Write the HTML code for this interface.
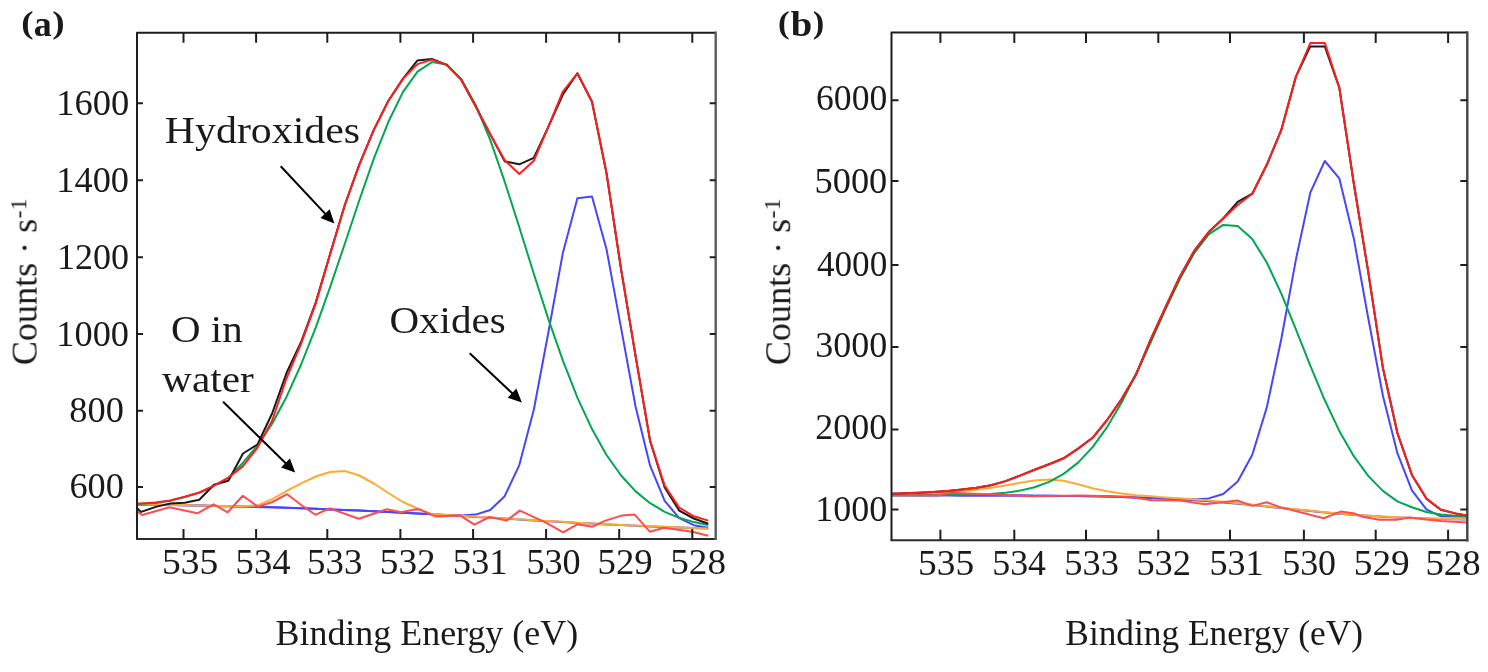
<!DOCTYPE html>
<html><head><meta charset="utf-8"><style>
html,body{margin:0;padding:0;background:#fff;}
svg{display:block;}
text{will-change:transform;}
</style></head><body>
<svg width="1488" height="672" viewBox="0 0 1488 672">
<rect width="1488" height="672" fill="#fff"/>
<defs><clipPath id="ca"><rect x="137" y="32.7" width="578.7" height="506.2"/></clipPath><clipPath id="cb"><rect x="891.5" y="32.6" width="575.6" height="507.9"/></clipPath></defs>
<g clip-path="url(#ca)">
<polyline fill="none" stroke="#4646ff" stroke-width="2" stroke-linejoin="round" points="126.6,504.5 141.2,504.7 155.7,504.9 170.3,505.1 184.8,505.3 199.3,505.6 213.9,505.9 228.4,506.2 243.0,506.5 257.5,506.9 272.1,507.3 286.6,507.8 301.1,508.3 315.7,508.8 330.2,509.4 344.8,510.0 359.3,510.6 373.8,511.3 388.4,512.0 402.9,512.7 417.5,513.5 432.0,514.3 446.6,515.2 461.1,516.0 475.6,516.9 490.2,517.7 504.7,518.6 519.3,519.5 533.8,520.4 548.3,521.2 562.9,522.0 577.4,522.9 592.0,523.6 606.5,524.4 621.1,525.1 635.6,525.8 650.1,526.4 664.7,527.0 679.2,527.6 693.8,528.1 708.3,528.6" />
<polyline fill="none" stroke="#4646ff" stroke-width="2" stroke-linejoin="round" points="126.6,504.5 141.2,504.7 155.7,504.9 170.3,505.1 184.8,505.3 199.3,505.6 213.9,505.9 228.4,506.2 243.0,506.5 257.5,506.9 272.1,507.3 286.6,507.8 301.1,508.3 315.7,508.8 330.2,509.4 344.8,510.0 359.3,510.6 373.8,511.3 388.4,512.0 402.9,512.7 417.5,513.5 432.0,514.3 446.6,515.0 461.1,515.5 475.6,514.6 490.2,510.0 504.7,496.2 519.3,465.1 533.8,409.8 548.3,332.8 562.9,252.8 577.4,198.3 592.0,196.6 606.5,249.2 621.1,328.1 635.6,406.7 650.1,465.7 664.7,500.9 679.2,518.1 693.8,525.2 708.3,527.8" />
<polyline fill="none" stroke="#ffaa33" stroke-width="2" stroke-linejoin="round" points="126.6,504.3 141.2,504.5 155.7,504.7 170.3,504.9 184.8,505.1 199.3,505.4 213.9,505.7 228.4,506.0 243.0,506.3 257.5,505.4 272.1,499.2 286.6,491.0 301.1,483.4 315.7,476.5 330.2,472.0 344.8,471.0 359.3,475.5 373.8,483.5 388.4,493.0 402.9,502.0 417.5,508.5 432.0,514.1 446.6,515.0 461.1,515.8 475.6,516.7 490.2,517.5 504.7,518.4 519.3,519.3 533.8,520.2 548.3,521.0 562.9,521.8 577.4,522.7 592.0,523.4 606.5,524.2 621.1,524.9 635.6,525.6 650.1,526.2 664.7,526.8 679.2,527.4 693.8,527.9 708.3,528.4" />
<polyline fill="none" stroke="#00a850" stroke-width="2" stroke-linejoin="round" points="126.6,504.2 141.2,503.8 155.7,502.9 170.3,500.7 184.8,497.0 199.3,492.8 213.9,486.0 228.4,477.9 243.0,462.7 257.5,445.6 272.1,423.7 286.6,396.7 301.1,364.5 315.7,327.6 330.2,286.8 344.8,243.7 359.3,200.2 373.8,158.7 388.4,121.8 402.9,92.1 417.5,71.6 432.0,62.1 446.6,64.5 461.1,79.1 475.6,104.9 490.2,139.9 504.7,181.7 519.3,227.2 533.8,273.8 548.3,318.9 562.9,360.6 577.4,397.6 592.0,429.1 606.5,455.0 621.1,475.5 635.6,491.4 650.1,503.2 664.7,511.8 679.2,517.8 693.8,522.1 708.3,524.9" />
<polyline fill="none" stroke="#ff4d4d" stroke-width="2" stroke-linejoin="round" points="128.0,504.6 137.0,511.3 142.0,515.0 169.3,507.3 197.5,513.3 213.6,504.3 227.7,512.3 242.8,495.8 258.0,506.7 272.4,502.0 287.2,494.2 301.6,505.2 315.4,514.8 329.5,508.3 358.8,518.8 387.0,509.3 401.1,512.3 416.2,509.3 420.0,509.6 436.1,516.6 460.3,515.6 474.4,524.7 489.6,517.0 506.7,520.6 519.8,510.6 546.0,522.7 563.1,532.3 577.3,524.3 592.4,526.7 605.5,520.6 621.6,515.6 634.7,514.6 649.8,531.7 664.0,527.7 692.2,531.7 708.3,535.8" />
<polyline fill="none" stroke="#1a1a1a" stroke-width="2" stroke-linejoin="round" points="126.6,499.0 141.2,511.9 155.7,506.9 170.3,503.5 184.8,502.7 199.3,499.8 213.9,484.7 228.4,480.8 243.0,453.5 257.5,444.5 272.1,413.5 286.6,372.8 301.1,342.0 315.7,302.6 330.2,253.8 344.8,205.0 359.3,164.7 373.8,129.9 388.4,100.8 402.9,78.9 417.5,60.4 432.0,58.9 446.6,64.9 461.1,79.5 475.6,106.3 490.2,134.1 504.7,161.4 519.3,164.3 533.8,157.9 548.3,126.9 562.9,94.5 577.4,73.3 592.0,101.8 606.5,173.1 621.1,269.3 635.6,356.2 650.1,440.9 664.7,487.5 679.2,510.6 693.8,518.5 708.3,523.7" />
<polyline fill="none" stroke="#ff1e1e" stroke-width="2" stroke-linejoin="round" points="126.6,503.9 141.2,503.5 155.7,502.6 170.3,500.4 184.8,496.7 199.3,492.5 213.9,485.7 228.4,477.6 243.0,466.1 257.5,447.6 272.1,420.7 286.6,378.0 301.1,343.6 315.7,303.6 330.2,253.8 344.8,205.0 359.3,164.7 373.8,129.9 388.4,100.8 402.9,78.9 417.5,64.1 432.0,59.6 446.6,64.9 461.1,79.5 475.6,106.3 490.2,134.1 504.7,160.3 519.3,174.0 533.8,160.8 548.3,126.9 562.9,91.5 577.4,73.3 592.0,101.8 606.5,173.1 621.1,269.3 635.6,356.2 650.1,440.9 664.7,485.5 679.2,507.6 693.8,516.3 708.3,520.6" />
</g>
<g clip-path="url(#cb)">
<polyline fill="none" stroke="#4646ff" stroke-width="2" stroke-linejoin="round" points="874.9,495.3 889.4,495.3 903.9,495.3 918.4,495.3 932.9,495.3 947.5,495.3 962.0,495.4 976.5,495.4 991.0,495.4 1005.5,495.5 1020.0,495.6 1034.5,495.7 1049.1,495.8 1063.6,495.9 1078.1,496.1 1092.6,496.3 1107.1,496.6 1121.6,496.9 1136.1,497.4 1150.7,497.9 1165.2,498.5 1179.7,499.3 1194.2,500.2 1208.7,501.2 1223.2,502.4 1237.7,503.7 1252.3,505.1 1266.8,506.6 1281.3,508.1 1295.8,509.6 1310.3,511.1 1324.8,512.5 1339.3,513.7 1353.8,514.9 1368.4,515.8 1382.9,516.7 1397.4,517.4 1411.9,518.0 1426.4,518.5 1440.9,518.9 1455.4,519.2 1470.0,519.5 1484.5,519.7" />
<polyline fill="none" stroke="#4646ff" stroke-width="2" stroke-linejoin="round" points="874.9,495.3 889.4,495.3 903.9,495.3 918.4,495.3 932.9,495.3 947.5,495.3 962.0,495.4 976.5,495.4 991.0,495.4 1005.5,495.5 1020.0,495.6 1034.5,495.7 1049.1,495.8 1063.6,495.9 1078.1,496.1 1092.6,496.3 1107.1,496.6 1121.6,496.9 1136.1,497.4 1150.7,497.9 1165.2,498.5 1179.7,499.1 1194.2,499.4 1208.7,498.4 1223.2,494.0 1237.7,481.6 1252.3,454.8 1266.8,407.4 1281.3,339.0 1295.8,260.1 1310.3,192.7 1324.8,161.0 1339.3,178.3 1353.8,238.4 1368.4,319.0 1382.9,395.7 1397.4,453.2 1411.9,490.4 1426.4,509.4 1440.9,516.3 1455.4,516.5 1470.0,516.5 1484.5,516.5" />
<polyline fill="none" stroke="#ffaa33" stroke-width="2" stroke-linejoin="round" points="874.9,494.3 889.4,494.2 903.9,494.0 918.4,493.6 932.9,493.2 947.5,492.4 962.0,491.4 976.5,489.8 991.0,487.8 1005.5,485.4 1020.0,482.8 1034.5,480.5 1049.1,479.5 1063.6,480.8 1078.1,484.3 1092.6,488.2 1107.1,491.3 1121.6,493.6 1136.1,495.2 1150.7,496.3 1165.2,497.4 1179.7,498.3 1194.2,499.4 1208.7,500.6 1223.2,501.8 1237.7,503.2 1252.3,504.7 1266.8,506.2 1281.3,507.8 1295.8,509.3 1310.3,510.8 1324.8,512.2 1339.3,513.5 1353.8,514.7 1368.4,515.7 1382.9,516.5 1397.4,517.3 1411.9,517.9 1426.4,518.4 1440.9,518.8 1455.4,519.1 1470.0,519.4 1484.5,519.6" />
<polyline fill="none" stroke="#00a850" stroke-width="2" stroke-linejoin="round" points="874.9,495.3 889.4,495.3 903.9,495.3 918.4,495.3 932.9,495.2 947.5,495.1 962.0,495.0 976.5,494.6 991.0,493.9 1005.5,492.7 1020.0,490.6 1034.5,487.2 1049.1,481.9 1063.6,473.9 1078.1,462.6 1092.6,447.1 1107.1,427.1 1121.6,402.5 1136.1,373.8 1150.7,342.3 1165.2,309.9 1179.7,279.3 1194.2,253.2 1208.7,234.3 1223.2,224.9 1237.7,226.1 1252.3,239.1 1266.8,262.5 1281.3,293.6 1295.8,329.1 1310.3,365.7 1324.8,400.3 1339.3,430.9 1353.8,456.2 1368.4,476.1 1382.9,490.9 1397.4,501.4 1411.9,507.2 1426.4,512.0 1440.9,514.5 1455.4,515.8 1470.0,516.5 1484.5,516.8" />
<polyline fill="none" stroke="#ff4d4d" stroke-width="2" stroke-linejoin="round" points="880.0,494.5 890.0,495.3 937.6,495.5 949.5,492.8 1032.9,496.2 1080.5,495.5 1128.1,496.7 1151.9,500.2 1180.0,500.5 1205.0,504.3 1237.3,500.5 1252.5,505.9 1266.7,502.3 1281.0,507.4 1323.7,518.2 1340.7,511.6 1354.7,513.6 1362.4,516.7 1379.4,519.8 1396.4,519.8 1410.0,517.5 1426.0,519.5 1441.0,521.0 1467.0,522.4 1480.0,523.0" />
<polyline fill="none" stroke="#1a1a1a" stroke-width="2" stroke-linejoin="round" points="874.9,494.0 889.4,493.8 903.9,493.2 918.4,492.7 932.9,492.1 947.5,490.9 962.0,489.4 976.5,487.8 991.0,485.3 1005.5,481.1 1020.0,475.6 1034.5,469.8 1049.1,464.2 1063.6,458.3 1078.1,448.6 1092.6,437.8 1107.1,420.0 1121.6,399.1 1136.1,374.4 1150.7,339.5 1165.2,308.0 1179.7,277.0 1194.2,250.9 1208.7,232.1 1223.2,218.5 1237.7,201.8 1252.3,193.7 1266.8,164.8 1281.3,129.9 1295.8,76.9 1310.3,46.4 1324.8,46.4 1339.3,87.7 1353.8,183.5 1368.4,272.9 1382.9,367.9 1397.4,433.0 1411.9,474.9 1426.4,498.6 1440.9,509.8 1455.4,513.4 1470.0,516.2 1484.5,517.0" />
<polyline fill="none" stroke="#ff1e1e" stroke-width="2" stroke-linejoin="round" points="874.9,494.0 889.4,493.8 903.9,493.2 918.4,492.7 932.9,492.1 947.5,490.9 962.0,489.4 976.5,487.8 991.0,485.3 1005.5,481.1 1020.0,475.6 1034.5,469.8 1049.1,464.2 1063.6,458.3 1078.1,448.6 1092.6,437.8 1107.1,420.0 1121.6,399.1 1136.1,374.4 1150.7,339.5 1165.2,308.0 1179.7,277.0 1194.2,250.9 1208.7,232.1 1223.2,218.5 1237.7,205.0 1252.3,193.7 1266.8,164.8 1281.3,129.9 1295.8,76.9 1310.3,43.1 1324.8,42.9 1339.3,87.7 1353.8,183.5 1368.4,272.9 1382.9,367.9 1397.4,433.0 1411.9,474.9 1426.4,498.6 1440.9,509.8 1455.4,513.4 1470.0,516.2 1484.5,517.0" />
</g>
<path d="M137,538.9V32.7H715.7" fill="none" stroke="#1e1e1e" stroke-width="2" stroke-linejoin="round"/>
<path d="M137,538.9H715.7" fill="none" stroke="#2a2a2a" stroke-width="2" stroke-linecap="square"/>
<path d="M715.7,32.7V538.9" fill="none" stroke="#5a5a5a" stroke-width="2.4" stroke-linecap="square"/>
<path d="M183.5,538.9V528.9M183.5,32.7V42.7M256.1,538.9V528.9M256.1,32.7V42.7M327.3,538.9V528.9M327.3,32.7V42.7M400.4,538.9V528.9M400.4,32.7V42.7M473.1,538.9V528.9M473.1,32.7V42.7M546.1,538.9V528.9M546.1,32.7V42.7M619.2,538.9V528.9M619.2,32.7V42.7M692.3,538.9V528.9M692.3,32.7V42.7M137,487.0H143M715.7,487.0H709.7M137,410.7H143M715.7,410.7H709.7M137,334.1H143M715.7,334.1H709.7M137,257.3H143M715.7,257.3H709.7M137,180.3H143M715.7,180.3H709.7M137,103.2H143M715.7,103.2H709.7" stroke="#1e1e1e" stroke-width="2" fill="none"/>
<path d="M891.5,540.2V32.5H1467.3" fill="none" stroke="#1e1e1e" stroke-width="2" stroke-linejoin="round"/>
<path d="M891.5,540.2H1467.3" fill="none" stroke="#2a2a2a" stroke-width="2" stroke-linecap="square"/>
<path d="M1467.3,32.5V540.2" fill="none" stroke="#444" stroke-width="2.4" stroke-linecap="square"/>
<path d="M940.4,540.2V529.7M940.4,32.5V43.0M1014.3,540.2V529.7M1014.3,32.5V43.0M1086.0,540.2V529.7M1086.0,32.5V43.0M1158.3,540.2V529.7M1158.3,32.5V43.0M1230.0,540.2V529.7M1230.0,32.5V43.0M1303.9,540.2V529.7M1303.9,32.5V43.0M1375.7,540.2V529.7M1375.7,32.5V43.0M1448.1,540.2V529.7M1448.1,32.5V43.0M891.5,509.6H898.5M1467.3,509.6H1460.3M891.5,429.6H898.5M1467.3,429.6H1460.3M891.5,347.0H898.5M1467.3,347.0H1460.3M891.5,265.0H898.5M1467.3,265.0H1460.3M891.5,180.9H898.5M1467.3,180.9H1460.3M891.5,100.3H898.5M1467.3,100.3H1460.3" stroke="#1e1e1e" stroke-width="2" fill="none"/>
<text x="56.31" y="115.35" font-size="35.20" font-family="Liberation Serif" fill="#1a1a1a" textLength="72.96" lengthAdjust="spacingAndGlyphs">1600</text>
<text x="56.32" y="192.35" font-size="35.20" font-family="Liberation Serif" fill="#1a1a1a" textLength="72.64" lengthAdjust="spacingAndGlyphs">1400</text>
<text x="56.95" y="268.75" font-size="35.20" font-family="Liberation Serif" fill="#1a1a1a" textLength="72.00" lengthAdjust="spacingAndGlyphs">1200</text>
<text x="56.32" y="345.55" font-size="35.20" font-family="Liberation Serif" fill="#1a1a1a" textLength="72.64" lengthAdjust="spacingAndGlyphs">1000</text>
<text x="69.34" y="421.85" font-size="35.20" font-family="Liberation Serif" fill="#1a1a1a" textLength="54.53" lengthAdjust="spacingAndGlyphs">800</text>
<text x="69.46" y="498.45" font-size="35.20" font-family="Liberation Serif" fill="#1a1a1a" textLength="54.40" lengthAdjust="spacingAndGlyphs">600</text>
<text x="816.09" y="109.85" font-size="35.20" font-family="Liberation Serif" fill="#1a1a1a" textLength="71.15" lengthAdjust="spacingAndGlyphs">6000</text>
<text x="814.61" y="192.65" font-size="35.20" font-family="Liberation Serif" fill="#1a1a1a" textLength="72.65" lengthAdjust="spacingAndGlyphs">5000</text>
<text x="816.90" y="276.15" font-size="35.20" font-family="Liberation Serif" fill="#1a1a1a" textLength="70.32" lengthAdjust="spacingAndGlyphs">4000</text>
<text x="815.29" y="356.85" font-size="35.20" font-family="Liberation Serif" fill="#1a1a1a" textLength="71.96" lengthAdjust="spacingAndGlyphs">3000</text>
<text x="815.38" y="439.25" font-size="35.20" font-family="Liberation Serif" fill="#1a1a1a" textLength="71.86" lengthAdjust="spacingAndGlyphs">2000</text>
<text x="815.35" y="521.45" font-size="35.20" font-family="Liberation Serif" fill="#1a1a1a" textLength="71.89" lengthAdjust="spacingAndGlyphs">1000</text>
<text x="162.04" y="573.85" font-size="35.20" font-family="Liberation Serif" fill="#1a1a1a" textLength="56.26" lengthAdjust="spacingAndGlyphs">535</text>
<text x="235.59" y="573.85" font-size="35.20" font-family="Liberation Serif" fill="#1a1a1a" textLength="54.96" lengthAdjust="spacingAndGlyphs">534</text>
<text x="307.08" y="573.85" font-size="35.20" font-family="Liberation Serif" fill="#1a1a1a" textLength="55.29" lengthAdjust="spacingAndGlyphs">533</text>
<text x="379.86" y="573.85" font-size="35.20" font-family="Liberation Serif" fill="#1a1a1a" textLength="55.89" lengthAdjust="spacingAndGlyphs">532</text>
<text x="452.70" y="573.85" font-size="35.20" font-family="Liberation Serif" fill="#1a1a1a" textLength="54.79" lengthAdjust="spacingAndGlyphs">531</text>
<text x="526.42" y="573.85" font-size="35.20" font-family="Liberation Serif" fill="#1a1a1a" textLength="54.23" lengthAdjust="spacingAndGlyphs">530</text>
<text x="597.59" y="573.85" font-size="35.20" font-family="Liberation Serif" fill="#1a1a1a" textLength="55.08" lengthAdjust="spacingAndGlyphs">529</text>
<text x="670.26" y="573.85" font-size="35.20" font-family="Liberation Serif" fill="#1a1a1a" textLength="55.73" lengthAdjust="spacingAndGlyphs">528</text>
<text x="918.05" y="574.85" font-size="35.20" font-family="Liberation Serif" fill="#1a1a1a" textLength="56.04" lengthAdjust="spacingAndGlyphs">535</text>
<text x="992.24" y="574.85" font-size="35.20" font-family="Liberation Serif" fill="#1a1a1a" textLength="53.70" lengthAdjust="spacingAndGlyphs">534</text>
<text x="1064.30" y="574.85" font-size="35.20" font-family="Liberation Serif" fill="#1a1a1a" textLength="54.65" lengthAdjust="spacingAndGlyphs">533</text>
<text x="1136.41" y="574.85" font-size="35.20" font-family="Liberation Serif" fill="#1a1a1a" textLength="54.59" lengthAdjust="spacingAndGlyphs">532</text>
<text x="1209.43" y="574.85" font-size="35.20" font-family="Liberation Serif" fill="#1a1a1a" textLength="54.03" lengthAdjust="spacingAndGlyphs">531</text>
<text x="1282.24" y="574.85" font-size="35.20" font-family="Liberation Serif" fill="#1a1a1a" textLength="53.81" lengthAdjust="spacingAndGlyphs">530</text>
<text x="1353.76" y="574.85" font-size="35.20" font-family="Liberation Serif" fill="#1a1a1a" textLength="55.94" lengthAdjust="spacingAndGlyphs">529</text>
<text x="1425.48" y="574.85" font-size="35.20" font-family="Liberation Serif" fill="#1a1a1a" textLength="55.20" lengthAdjust="spacingAndGlyphs">528</text>
<text x="275.52" y="645.30" font-size="36.20" font-family="Liberation Serif" fill="#1a1a1a" textLength="302.58" lengthAdjust="spacingAndGlyphs">Binding Energy (eV)</text>
<text x="1065.34" y="645.00" font-size="36.20" font-family="Liberation Serif" fill="#1a1a1a" textLength="297.64" lengthAdjust="spacingAndGlyphs">Binding Energy (eV)</text>
<text transform="translate(36.6,365.14) rotate(-90)" font-size="35.0" font-family="Liberation Serif" fill="#1a1a1a"><tspan textLength="146.35" lengthAdjust="spacingAndGlyphs">Counts · s</tspan></text>
<text transform="translate(26.3,218.5) rotate(-90)" font-size="24" font-family="Liberation Serif" fill="#1a1a1a">-1</text>
<text transform="translate(790.2,365.14) rotate(-90)" font-size="35.0" font-family="Liberation Serif" fill="#1a1a1a"><tspan textLength="146.35" lengthAdjust="spacingAndGlyphs">Counts · s</tspan></text>
<text transform="translate(779.9000000000001,218.5) rotate(-90)" font-size="24" font-family="Liberation Serif" fill="#1a1a1a">-1</text>
<text x="21.34" y="33.32" font-size="32.40" font-weight="bold" font-family="Liberation Serif" fill="#1a1a1a" textLength="12.28" lengthAdjust="spacingAndGlyphs">(</text>
<text x="33.83" y="36.44" font-size="35.62" font-weight="bold" font-family="Liberation Serif" fill="#1a1a1a" textLength="18.01" lengthAdjust="spacingAndGlyphs">a</text>
<text x="52.39" y="33.32" font-size="32.40" font-weight="bold" font-family="Liberation Serif" fill="#1a1a1a" textLength="12.42" lengthAdjust="spacingAndGlyphs">)</text>
<text x="778.13" y="33.32" font-size="32.40" font-weight="bold" font-family="Liberation Serif" fill="#1a1a1a" textLength="11.62" lengthAdjust="spacingAndGlyphs">(</text>
<text x="790.72" y="36.44" font-size="36.31" font-weight="bold" font-family="Liberation Serif" fill="#1a1a1a" textLength="21.47" lengthAdjust="spacingAndGlyphs">b</text>
<text x="812.78" y="33.32" font-size="32.40" font-weight="bold" font-family="Liberation Serif" fill="#1a1a1a" textLength="11.51" lengthAdjust="spacingAndGlyphs">)</text>
<text x="164.84" y="142.60" font-size="38.80" font-family="Liberation Serif" fill="#1a1a1a" textLength="195.27" lengthAdjust="spacingAndGlyphs">Hydroxides</text>
<text x="389.46" y="333.20" font-size="38.80" font-family="Liberation Serif" fill="#1a1a1a" textLength="116.30" lengthAdjust="spacingAndGlyphs">Oxides</text>
<text x="171.06" y="341.90" font-size="38.80" font-family="Liberation Serif" fill="#1a1a1a" textLength="71.55" lengthAdjust="spacingAndGlyphs">O in</text>
<text x="162.10" y="391.60" font-size="38.80" font-family="Liberation Serif" fill="#1a1a1a" textLength="91.64" lengthAdjust="spacingAndGlyphs">water</text>
<line x1="280.7" y1="166.3" x2="325.78" y2="214.31" stroke="#000" stroke-width="2"/>
<polygon points="334.4,223.5 320.50,217.90 329.68,209.27" fill="#000"/>
<line x1="223.1" y1="401.7" x2="286.21" y2="463.67" stroke="#000" stroke-width="2"/>
<polygon points="295.2,472.5 281.08,467.47 289.91,458.48" fill="#000"/>
<line x1="469.7" y1="353.2" x2="512.74" y2="393.85" stroke="#000" stroke-width="2"/>
<polygon points="521.9,402.5 507.69,397.74 516.34,388.58" fill="#000"/>
</svg>
</body></html>
